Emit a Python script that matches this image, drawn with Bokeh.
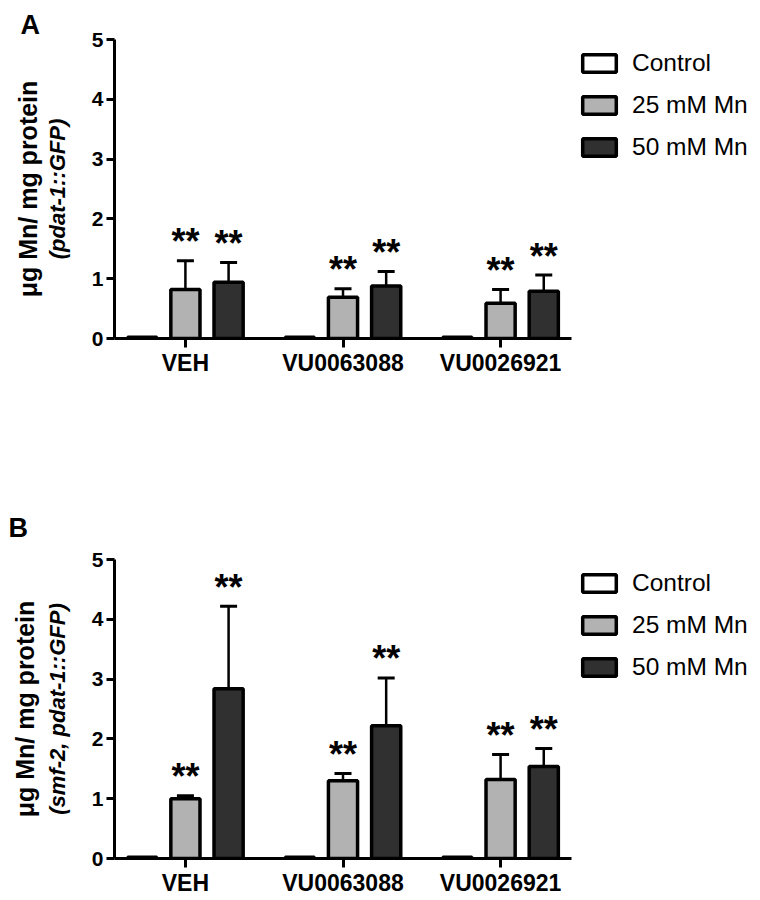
from bokeh.plotting import figure
from bokeh.models import (ColumnDataSource, Range1d, FixedTicker, Whisker, TeeHead,
                          Title, Legend, LegendItem)
from bokeh.transform import dodge
from bokeh.layouts import column
from bokeh.embed import file_html
from bokeh.resources import INLINE
from bokeh.core.properties import value

# ---------------- data ----------------
groups = ["VEH", "VU0063088", "VU0026921"]
series = ["Control", "25 mM Mn", "50 mM Mn"]
y_ticks = [0, 1, 2, 3, 4, 5]

a_control = [0.02, 0.02, 0.02]
a_mn25 = [0.82, 0.69, 0.59]
a_mn25_err = [0.48, 0.14, 0.23]
a_mn50 = [0.94, 0.88, 0.79]
a_mn50_err = [0.33, 0.24, 0.27]

b_control = [0.02, 0.02, 0.02]
b_mn25 = [1.00, 1.30, 1.32]
b_mn25_err = [0.05, 0.12, 0.42]
b_mn50 = [2.84, 2.22, 1.54]
b_mn50_err = [1.38, 0.80, 0.30]

sig_mn25 = ["**", "**", "**"]
sig_mn50 = ["**", "**", "**"]

# ---------------- style ----------------
FONT = "Liberation Sans"
FILLS = ["#ffffff", "#b2b2b2", "#303030"]
OFFS = [-0.274, 0.0, 0.274]
BAR_W = 0.185


def make_panel(letter, ylab2, ctrl, m25, e25, m50, e50, top, bottom,
               letter_dx, letter_standoff, lab1_standoff):
    src = ColumnDataSource(dict(
        x=list(range(len(groups))),
        ctrl=ctrl, m25=m25, m50=m50,
        u25=[m + e for m, e in zip(m25, e25)],
        u50=[m + e for m, e in zip(m50, e50)],
        s25=sig_mn25, s50=sig_mn50,
    ))
    p = figure(x_range=Range1d(-0.45, len(groups) - 0.55), y_range=Range1d(0, 5),
               frame_width=457, frame_height=299,
               min_border_left=114, min_border_right=185,
               min_border_top=top, min_border_bottom=bottom,
               output_backend="svg", toolbar_location=None,
               background_fill_color="white", border_fill_color="white",
               outline_line_color=None)
    p.xgrid.visible = False
    p.ygrid.visible = False

    renderers = []
    for col, off, fill in zip(["ctrl", "m25", "m50"], OFFS, FILLS):
        r = p.vbar(x=dodge("x", off, range=p.x_range), top=col, bottom=0, width=BAR_W,
                   source=src, fill_color=fill, line_color="black", line_width=3.5)
        renderers.append(r)

    for mean, up, off in [("m25", "u25", OFFS[1]), ("m50", "u50", OFFS[2])]:
        w = Whisker(source=src, base=dodge("x", off, range=p.x_range), upper=up, lower=mean,
                    line_color="black", line_width=2.5, level="glyph",
                    upper_head=TeeHead(size=17, line_width=3, line_color="black"),
                    lower_head=None)
        p.add_layout(w)

    for up, txt, off in [("u25", "s25", OFFS[1]), ("u50", "s50", OFFS[2])]:
        p.text(x=dodge("x", off, range=p.x_range), y=up, text=txt, source=src,
               text_align="center", text_baseline="alphabetic", y_offset=-19,
               text_font=value(FONT), text_font_size="36px", text_font_style="bold",
               text_color="black")

    # axes
    for ax in (p.xaxis[0], p.yaxis[0]):
        ax.axis_line_width = 3
        ax.major_tick_line_width = 3
        ax.minor_tick_line_color = None
        ax.major_tick_in = 0
        ax.major_label_text_font = FONT
        ax.major_label_text_font_style = "bold"
        ax.major_label_text_color = "black"
    p.yaxis.ticker = FixedTicker(ticks=y_ticks)
    p.yaxis.major_tick_out = 8
    p.yaxis.major_label_standoff = 3
    p.yaxis.major_label_text_font_size = "21px"
    p.xaxis.ticker = FixedTicker(ticks=list(range(len(groups))))
    p.xaxis.major_label_overrides = {i: g for i, g in enumerate(groups)}
    p.xaxis.major_tick_out = 9
    p.xaxis.major_label_standoff = 2
    p.xaxis.major_label_text_font_size = "23px"

    # y axis title: second line as the axis label, first line as a side title
    p.yaxis.axis_label = ylab2
    p.yaxis.axis_label_text_font = FONT
    p.yaxis.axis_label_text_font_style = "bold italic"
    p.yaxis.axis_label_text_font_size = "22px"
    p.yaxis.axis_label_text_color = "black"
    p.yaxis.axis_label_standoff = 19
    p.add_layout(Title(text="\u03bcg Mn/ mg protein", align="center",
                       text_font=FONT, text_font_style="bold", text_font_size="25px",
                       text_color="black", standoff=lab1_standoff), "left")
    # panel letter
    p.add_layout(Title(text=letter, align="left", offset=letter_dx, standoff=letter_standoff,
                       text_font=FONT, text_font_style="bold", text_font_size="27px",
                       text_color="black"), "above")

    legend = Legend(items=[LegendItem(label=s, renderers=[r]) for s, r in zip(series, renderers)],
                    location=(7, 177), orientation="vertical",
                    glyph_width=42, glyph_height=22, label_standoff=12, spacing=14,
                    padding=0, margin=0, border_line_color=None,
                    background_fill_alpha=0,
                    label_text_font=FONT, label_text_font_size="24.5px",
                    label_text_color="black")
    p.add_layout(legend, "right")
    return p


pa = make_panel("A", "(pdat-1::GFP)", a_control, a_mn25, a_mn25_err, a_mn50, a_mn50_err,
                top=39, bottom=70, letter_dx=-94, letter_standoff=0, lab1_standoff=0)
pb = make_panel("B", "(smf-2, pdat-1::GFP)", b_control, b_mn25, b_mn25_err, b_mn50, b_mn50_err,
                top=151, bottom=0, letter_dx=-106, letter_standoff=33, lab1_standoff=6)

layout = column(pa, pb, spacing=0)
open("out.html", "w").write(file_html(layout, INLINE))
